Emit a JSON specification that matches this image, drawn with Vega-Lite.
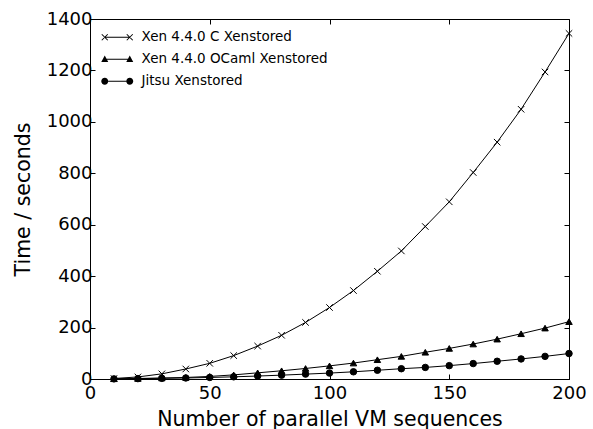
{
  "$schema": "https://vega.github.io/schema/vega-lite/v6.json",
  "autosize": "none",
  "width": 479,
  "height": 360,
  "padding": {"left": 90, "top": 19, "right": 24, "bottom": 50},
  "background": "white",
  "config": {
    "view": {"stroke": "black", "strokeWidth": 1},
    "font": "DejaVu Sans",
    "axis": {"grid": false, "domain": false, "tickColor": "black", "tickWidth": 1, "tickSize": -5, "labelColor": "black", "titleColor": "black", "labelFont": "DejaVu Sans", "titleFont": "DejaVu Sans", "titleFontWeight": "normal", "labelFlush": false, "labelOverlap": false, "format": "d"}
  },
  "data": {"values": [
    {"n": 10, "series": "Xen 4.4.0 C Xenstored", "t": 2},
    {"n": 20, "series": "Xen 4.4.0 C Xenstored", "t": 8},
    {"n": 30, "series": "Xen 4.4.0 C Xenstored", "t": 20},
    {"n": 40, "series": "Xen 4.4.0 C Xenstored", "t": 39},
    {"n": 50, "series": "Xen 4.4.0 C Xenstored", "t": 61},
    {"n": 60, "series": "Xen 4.4.0 C Xenstored", "t": 91},
    {"n": 70, "series": "Xen 4.4.0 C Xenstored", "t": 128},
    {"n": 80, "series": "Xen 4.4.0 C Xenstored", "t": 170},
    {"n": 90, "series": "Xen 4.4.0 C Xenstored", "t": 220},
    {"n": 100, "series": "Xen 4.4.0 C Xenstored", "t": 278},
    {"n": 110, "series": "Xen 4.4.0 C Xenstored", "t": 344},
    {"n": 120, "series": "Xen 4.4.0 C Xenstored", "t": 419},
    {"n": 130, "series": "Xen 4.4.0 C Xenstored", "t": 498},
    {"n": 140, "series": "Xen 4.4.0 C Xenstored", "t": 593},
    {"n": 150, "series": "Xen 4.4.0 C Xenstored", "t": 689},
    {"n": 160, "series": "Xen 4.4.0 C Xenstored", "t": 803},
    {"n": 170, "series": "Xen 4.4.0 C Xenstored", "t": 921},
    {"n": 180, "series": "Xen 4.4.0 C Xenstored", "t": 1049},
    {"n": 190, "series": "Xen 4.4.0 C Xenstored", "t": 1194},
    {"n": 200, "series": "Xen 4.4.0 C Xenstored", "t": 1344},
    {"n": 10, "series": "Xen 4.4.0 OCaml Xenstored", "t": 1},
    {"n": 20, "series": "Xen 4.4.0 OCaml Xenstored", "t": 2},
    {"n": 30, "series": "Xen 4.4.0 OCaml Xenstored", "t": 4},
    {"n": 40, "series": "Xen 4.4.0 OCaml Xenstored", "t": 6},
    {"n": 50, "series": "Xen 4.4.0 OCaml Xenstored", "t": 10},
    {"n": 60, "series": "Xen 4.4.0 OCaml Xenstored", "t": 16},
    {"n": 70, "series": "Xen 4.4.0 OCaml Xenstored", "t": 24},
    {"n": 80, "series": "Xen 4.4.0 OCaml Xenstored", "t": 32},
    {"n": 90, "series": "Xen 4.4.0 OCaml Xenstored", "t": 41},
    {"n": 100, "series": "Xen 4.4.0 OCaml Xenstored", "t": 51},
    {"n": 110, "series": "Xen 4.4.0 OCaml Xenstored", "t": 62},
    {"n": 120, "series": "Xen 4.4.0 OCaml Xenstored", "t": 75},
    {"n": 130, "series": "Xen 4.4.0 OCaml Xenstored", "t": 88},
    {"n": 140, "series": "Xen 4.4.0 OCaml Xenstored", "t": 104},
    {"n": 150, "series": "Xen 4.4.0 OCaml Xenstored", "t": 119},
    {"n": 160, "series": "Xen 4.4.0 OCaml Xenstored", "t": 136},
    {"n": 170, "series": "Xen 4.4.0 OCaml Xenstored", "t": 155},
    {"n": 180, "series": "Xen 4.4.0 OCaml Xenstored", "t": 176},
    {"n": 190, "series": "Xen 4.4.0 OCaml Xenstored", "t": 198},
    {"n": 200, "series": "Xen 4.4.0 OCaml Xenstored", "t": 223},
    {"n": 10, "series": "Jitsu Xenstored", "t": 0.5},
    {"n": 20, "series": "Jitsu Xenstored", "t": 1.5},
    {"n": 30, "series": "Jitsu Xenstored", "t": 2.5},
    {"n": 40, "series": "Jitsu Xenstored", "t": 4},
    {"n": 50, "series": "Jitsu Xenstored", "t": 6},
    {"n": 60, "series": "Jitsu Xenstored", "t": 8.5},
    {"n": 70, "series": "Jitsu Xenstored", "t": 11.5},
    {"n": 80, "series": "Jitsu Xenstored", "t": 15},
    {"n": 90, "series": "Jitsu Xenstored", "t": 19},
    {"n": 100, "series": "Jitsu Xenstored", "t": 23},
    {"n": 110, "series": "Jitsu Xenstored", "t": 28},
    {"n": 120, "series": "Jitsu Xenstored", "t": 34},
    {"n": 130, "series": "Jitsu Xenstored", "t": 40},
    {"n": 140, "series": "Jitsu Xenstored", "t": 45},
    {"n": 150, "series": "Jitsu Xenstored", "t": 52},
    {"n": 160, "series": "Jitsu Xenstored", "t": 60},
    {"n": 170, "series": "Jitsu Xenstored", "t": 69},
    {"n": 180, "series": "Jitsu Xenstored", "t": 78},
    {"n": 190, "series": "Jitsu Xenstored", "t": 88},
    {"n": 200, "series": "Jitsu Xenstored", "t": 99}
  ]},
  "layer": [
    {
      "mark": {"type": "line", "color": "black", "strokeWidth": 1},
      "encoding": {
        "x": {"field": "n", "type": "quantitative", "scale": {"domain": [0, 200], "nice": false},
          "axis": {"orient": "bottom", "values": [0, 50, 100, 150, 200], "title": "Number of parallel VM sequences", "labelFontSize": 18, "titleFontSize": 20.5, "labelPadding": 10, "titlePadding": 7}},
        "y": {"field": "t", "type": "quantitative", "scale": {"domain": [0, 1400], "nice": false},
          "axis": {"orient": "left", "values": [0, 200, 400, 600, 800, 1000, 1200, 1400], "title": "Time / seconds", "labelFontSize": 18, "titleFontSize": 20.5, "labelPadding": 3, "titlePadding": 13}},
        "detail": {"field": "series", "type": "nominal"}
      }
    },
    {
      "mark": {"type": "point", "filled": true, "color": "black", "stroke": "black", "strokeWidth": 1, "opacity": 1, "size": 42},
      "encoding": {
        "x": {"field": "n", "type": "quantitative",
          "axis": {"orient": "top", "values": [0, 50, 100, 150, 200], "labels": false, "title": null}},
        "y": {"field": "t", "type": "quantitative",
          "axis": {"orient": "right", "values": [0, 200, 400, 600, 800, 1000, 1200, 1400], "labels": false, "title": null}},
        "shape": {"field": "series", "type": "nominal",
          "scale": {"domain": ["Xen 4.4.0 C Xenstored", "Xen 4.4.0 OCaml Xenstored", "Jitsu Xenstored"], "range": ["M-1,-1L1,1M-1,1L1,-1", "triangle-up", "circle"]},
          "legend": null}
      }
    },
    {
      "transform": [{"filter": "false"}],
      "mark": {"type": "point", "filled": true, "color": "black", "opacity": 1},
      "encoding": {
        "x": {"field": "n", "type": "quantitative", "axis": null},
        "y": {"field": "t", "type": "quantitative", "axis": null},
        "shape": {"field": "series", "type": "nominal",
          "scale": {"domain": ["Xen 4.4.0 C Xenstored", "Xen 4.4.0 OCaml Xenstored", "Jitsu Xenstored"],
            "range": [
              "M-2.5,-0.1L2.5,-0.1L2.5,0.1L-2.5,0.1ZM-3.03,-0.67L-1.83,0.53L-1.97,0.67L-3.17,-0.53ZM-3.03,0.67L-3.17,0.53L-1.97,-0.67L-1.83,-0.53ZM1.97,-0.67L3.17,0.53L3.03,0.67L1.83,-0.53ZM1.97,0.67L1.83,0.53L3.03,-0.67L3.17,-0.53Z",
              "M-2.5,-0.1L2.5,-0.1L2.5,0.1L-2.5,0.1ZM-3.2,0.55L-2.5,-0.75L-1.8,0.55ZM1.8,0.55L2.5,-0.75L3.2,0.55Z",
              "M-1.8,-0.1L1.8,-0.1L1.8,0.1L-1.8,0.1ZM-3.2,0A0.7,0.7 0 1,1 -1.8,0A0.7,0.7 0 1,1 -3.2,0ZM1.8,0A0.7,0.7 0 1,1 3.2,0A0.7,0.7 0 1,1 1.8,0Z"
            ]},
          "legend": {"title": null, "orient": "none", "legendX": 20.5, "legendY": 11.5, "padding": 0, "symbolSize": 100, "symbolOpacity": 1, "symbolFillColor": "black", "symbolStrokeWidth": 0, "labelFont": "DejaVu Sans", "labelFontSize": 13.5, "labelColor": "black", "labelOffset": 17.5, "rowPadding": 7, "labelLimit": 400}}
      }
    }
  ],
  "resolve": {"scale": {"shape": "independent"}, "axis": {"x": "independent", "y": "independent"}}
}
